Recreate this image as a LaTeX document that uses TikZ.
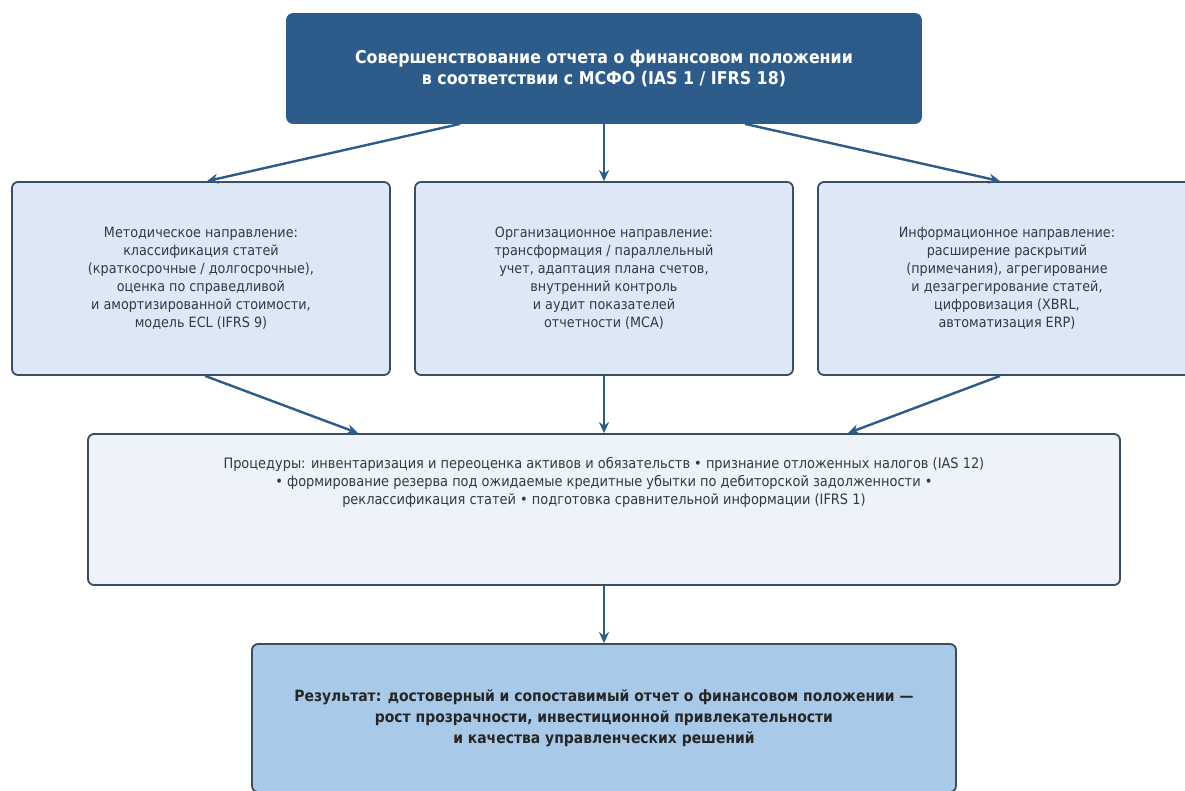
\documentclass[tikz,border=0pt]{standalone}
\usepackage{fontspec}
\setmainfont{DejaVu Sans Condensed}
\usetikzlibrary{arrows.meta}
\definecolor{topfill}{HTML}{2E5C8A}
\definecolor{edge}{HTML}{3B4D60}
\definecolor{dirfill}{HTML}{DCE8F5}
\definecolor{procfill}{HTML}{EEF3FA}
\definecolor{resfill}{HTML}{A9C9E8}
\definecolor{txt}{HTML}{2E3A46}
\definecolor{arrowc}{HTML}{2E5C8A}
\begin{document}
\begin{tikzpicture}[x=1pt,y=-1pt,
  box/.style={draw=edge, line width=1.8pt, rounded corners=6pt, align=center, inner sep=0pt},
  topbox/.style={box, fill=topfill, draw=topfill, text=white, font=\bfseries\fontsize{17.6}{21}\selectfont, minimum width=634pt, minimum height=109pt},
  dirbox/.style={box, fill=dirfill, text=txt, font=\fontsize{14.2}{18}\selectfont, minimum width=378pt, minimum height=193pt},
  procbox/.style={box, fill=procfill, minimum width=1032pt, minimum height=151pt},
  proctext/.style={align=center, text=txt, inner sep=0pt, font=\fontsize{14.4}{18}\selectfont},
  resbox/.style={box, fill=resfill, text=black!85, font=\bfseries\fontsize{15.5}{21}\selectfont, minimum width=704pt, minimum height=148pt},
  arr/.style={draw=arrowc, line width=2.4pt, -{Stealth[length=11pt,width=10pt]}}
]
\useasboundingbox (0,0) rectangle (1185,791);
\clip (0,0) rectangle (1185,791);
\fill[white] (0,0) rectangle (1185,791);

\node[topbox] (top) at (604,68.5) {Совершенствование отчета о финансовом положении\\в соответствии с МСФО (IAS 1 / IFRS 18)};

\node[dirbox] (left) at (201,278.5) {Методическое направление:\\классификация статей\\(краткосрочные / долгосрочные),\\оценка по справедливой\\и амортизированной стоимости,\\модель ECL (IFRS 9)};
\node[dirbox] (mid) at (604,278.5) {Организационное направление:\\трансформация / параллельный\\учет, адаптация плана счетов,\\внутренний контроль\\и аудит показателей\\отчетности (МСА)};
\node[dirbox] (right) at (1007,278.5) {Информационное направление:\\расширение раскрытий\\(примечания), агрегирование\\и дезагрегирование статей,\\цифровизация (XBRL,\\автоматизация ERP)};

\node[procbox] (proc) at (604,509.5) {};
\node[proctext] (proctxt) at (604,482) {Процедуры: инвентаризация и переоценка активов и обязательств • признание отложенных налогов (IAS 12)\\• формирование резерва под ожидаемые кредитные убытки по дебиторской задолженности •\\реклассификация статей • подготовка сравнительной информации (IFRS 1)};

\node[resbox] (res) at (604,718) {Результат: достоверный и сопоставимый отчет о финансовом положении —\\рост прозрачности, инвестиционной привлекательности\\и качества управленческих решений};

\draw[arr] ([xshift=-144pt]top.south) -- ([xshift=6pt]left.north);
\draw[arr] (top.south) -- (mid.north);
\draw[arr] ([xshift=141pt]top.south) -- ([xshift=-7pt]right.north);
\draw[arr] ([xshift=4pt]left.south) -- ([xshift=-246pt]proc.north);
\draw[arr] (mid.south) -- (proc.north);
\draw[arr] ([xshift=-7pt]right.south) -- ([xshift=244pt]proc.north);
\draw[arr] (proc.south) -- (res.north);
\end{tikzpicture}
\end{document}
